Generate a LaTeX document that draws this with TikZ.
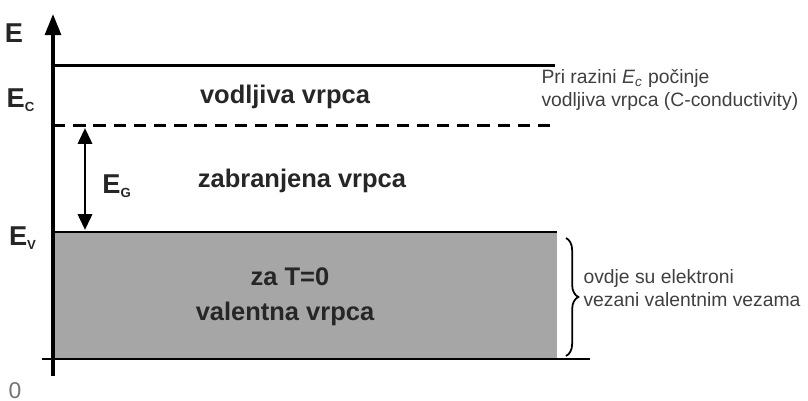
\documentclass[tikz,border=0pt]{standalone}
\usepackage{fontspec}
\setmainfont{Liberation Sans}
\usetikzlibrary{arrows.meta, positioning, calc, decorations.pathreplacing}

\begin{document}
\begin{tikzpicture}[x=0.2mm, y=-0.2mm, line width=1.7pt,
    band/.style={font=\bfseries\fontsize{14.5}{17}\selectfont, text=black!85},
    lvl/.style={font=\bfseries\fontsize{15.5}{17}\selectfont, text=black!85},
    note/.style={font=\fontsize{11}{13}\selectfont, text=black!75, align=left, inner sep=0pt}]
    \useasboundingbox (0,0) rectangle (808,401);

    % valence band fill
    \fill[black!35] (54,232) rectangle (557,359);

    % axis
    \coordinate (axbot) at (53,376);
    \coordinate (axtop) at (53,14);
    \draw[line width=2pt, -{Triangle[length=12pt, width=9pt]}] (axbot) -- (axtop);

    % levels
    \coordinate (top l) at (53,66);   \coordinate (top r) at (555,66);
    \coordinate (ec l) at (53,126);   \coordinate (ec r) at (555,126);
    \coordinate (ev l) at (53,232);   \coordinate (ev r) at (557,232);
    \coordinate (bot l) at (42,359);  \coordinate (bot r) at (590,359);
    \draw (top l) -- (top r);
    \draw[dash pattern=on 7pt off 4.5pt] (ec l) -- (ec r);
    \draw (ev l) -- (ev r);
    \draw (bot l) -- (bot r);

    % gap arrow
    \coordinate (eg top) at (85,128);
    \coordinate (eg bot) at (85,230);
    \draw[{Triangle[length=9pt, width=8pt]}-{Triangle[length=9pt, width=8pt]}] (eg top) -- (eg bot);

    % axis labels
    \node[lvl] (lblE) at (14,33) {E};
    \node[lvl] (lblEc) at (21,100) {E\textsubscript{\fontsize{7.5}{8}\selectfont C}};
    \node[lvl] (lblEg) at (117,186) {E\textsubscript{\fontsize{7.5}{8}\selectfont G}};
    \node[lvl] (lblEv) at (23,238) {E\textsubscript{\fontsize{7.5}{8}\selectfont V}};
    \node[font=\fontsize{13}{15}\selectfont, text=black!55, inner sep=0pt, anchor=south] (lbl0) at (15,400) {0};

    % band names
    \node[band] (cond) at (285,97) {vodljiva vrpca};
    \node[band] (gap) at (302,181) {zabranjena vrpca};
    \node[band] (tzero) at (290,277) {za T=0};
    \node[band] (val) at (285,314) {valentna vrpca};

    % notes
    \node[note, anchor=west] (notec) at (540,90) {Pri razini \textit{E}\textsubscript{\textit{c}} počinje\\vodljiva vrpca (C-conductivity)};
    \coordinate (br top) at (566,238);
    \coordinate (br bot) at (566,356);
    \draw[line width=1pt, decorate, decoration={brace, amplitude=7pt}] (br top) -- (br bot);
    \node[note, anchor=west] (notev) at (582,288) {ovdje su elektroni\\vezani valentnim vezama};
\end{tikzpicture}
\end{document}
